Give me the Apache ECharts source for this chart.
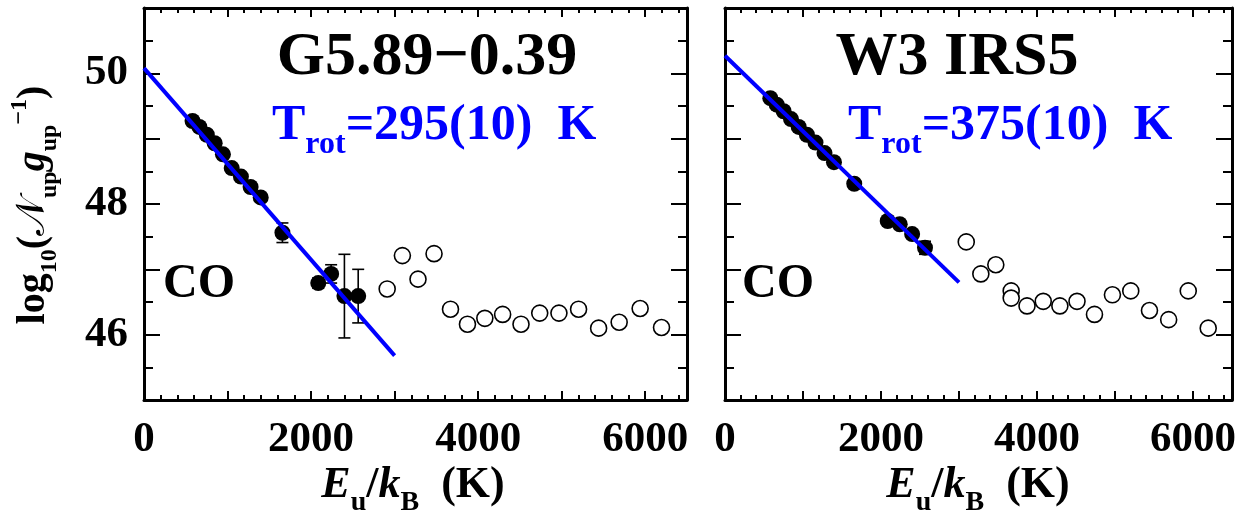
<!DOCTYPE html>
<html><head><meta charset="utf-8">
<script src="https://cdn.jsdelivr.net/npm/echarts@6/dist/echarts.min.js"></script>
<style>html,body{margin:0;padding:0;background:#fff}#c{width:1247px;height:511px}</style>
</head><body><div id="c"></div>
<script>
// ---------- DATA ----------
const xTickLabels = ['0', '2000', '4000', '6000'];
const yTickLabels = ['46', '48', '50'];

// Left panel: G5.89-0.39
const leftTitle = 'G5.89\u22120.39';
const leftTrot = '=295(10)  K';
const leftFitE = [0, 3000];
const leftFitLogN = [50.08, 45.68];
const leftFilledE = [581, 663, 752, 846, 945, 1050, 1160, 1276, 1397, 1657, 2086, 2240, 2399, 2564];
const leftFilledLogN = [49.27, 49.18, 49.06, 48.93, 48.76, 48.55, 48.42, 48.26, 48.10, 47.56, 46.79, 46.93, 46.59, 46.59];
const leftFilledErr = [0, 0, 0, 0, 0, 0, 0, 0, 0, 0.15, 0.08, 0.14, 0.64, 0.41];
const leftOpenE = [2911, 3093, 3280, 3472, 3669, 3872, 4080, 4293, 4513, 4737, 4967, 5202, 5442, 5688, 5939, 6195];
const leftOpenLogN = [46.70, 47.21, 46.85, 47.24, 46.39, 46.16, 46.25, 46.31, 46.16, 46.33, 46.33, 46.39, 46.10, 46.19, 46.40, 46.11];

// Right panel: W3 IRS5
const rightTitle = 'W3 IRS5';
const rightTrot = '=375(10)  K';
const rightFitE = [0, 3000];
const rightFitLogN = [50.27, 46.80];
const rightFilledE = [581, 663, 752, 846, 945, 1050, 1160, 1276, 1397, 1657, 2086, 2240, 2399, 2564];
const rightFilledLogN = [49.62, 49.52, 49.42, 49.30, 49.18, 49.06, 48.94, 48.78, 48.64, 48.31, 47.74, 47.69, 47.54, 47.33];
const rightFilledErr = [0, 0, 0, 0, 0, 0, 0, 0, 0, 0.03, 0.04, 0.05, 0.06, 0.10];
const rightOpenE = [3093, 3280, 3472, 3669, 3669, 3872, 4080, 4293, 4513, 4737, 4967, 5202, 5442, 5688, 5939, 6195];
const rightOpenLogN = [47.42, 46.93, 47.07, 46.67, 46.56, 46.44, 46.51, 46.44, 46.51, 46.31, 46.61, 46.67, 46.37, 46.23, 46.67, 46.10];

// ---------- CHART ----------
const FF = "'Liberation Serif', 'Times New Roman', serif";
const BLUE = '#0000ff';
const chart = echarts.init(document.getElementById('c'), null, {renderer: 'canvas'});

const zip = (a, b) => a.map((v, i) => [v, b[i]]);

function xAxes(g) {
  const base = {gridIndex: g, type: 'value', min: 0, max: 6500, splitLine: {show: false}};
  const line = {show: true, onZero: false, lineStyle: {color: '#000', width: 3}};
  const noLine = {show: false, onZero: false};
  const tick = (len) => ({show: true, inside: true, length: len, lineStyle: {color: '#000', width: 2}});
  return [
    Object.assign({}, base, {position: 'bottom', interval: 1000, axisLine: line, axisTick: tick(9),
      axisLabel: {show: true, margin: 18, color: '#000', fontFamily: FF, fontWeight: 'bold', fontSize: 43,
        formatter: v => xTickLabels.includes(String(v)) ? String(v) : ''}}),
    Object.assign({}, base, {position: 'bottom', interval: 200, axisLine: noLine, axisTick: tick(5), axisLabel: {show: false}}),
    Object.assign({}, base, {position: 'top', interval: 1000, axisLine: line, axisTick: tick(9), axisLabel: {show: false}}),
    Object.assign({}, base, {position: 'top', interval: 200, axisLine: noLine, axisTick: tick(5), axisLabel: {show: false}})
  ];
}
function yAxes(g, showLabels) {
  const base = {gridIndex: g, type: 'value', min: 45, max: 51, interval: 1, splitLine: {show: false},
    axisLine: {show: true, onZero: false, lineStyle: {color: '#000', width: 3}},
    axisTick: {show: true, inside: true, length: 16, lineStyle: {color: '#000', width: 2}},
    minorTick: {show: true, splitNumber: 2, length: 9, lineStyle: {color: '#000', width: 2}},
    minorSplitLine: {show: false}};
  return [
    Object.assign({}, base, {position: 'left', axisLabel: {show: showLabels, margin: 16, color: '#000', fontFamily: FF,
      fontWeight: 'bold', fontSize: 43, formatter: v => yTickLabels.includes(String(v)) ? String(v) : ''}}),
    Object.assign({}, base, {position: 'right', axisLabel: {show: false}})
  ];
}

function errSeries(xi, yi, E, V, Err) {
  const data = [];
  E.forEach((e, i) => { if (Err[i] > 0) data.push([e, V[i] - Err[i], V[i] + Err[i]]); });
  return {
    type: 'custom', xAxisIndex: xi, yAxisIndex: yi, silent: true, z: 3, data: data,
    encode: {x: 0, y: [1, 2]},
    renderItem: function (params, api) {
      const lo = api.coord([api.value(0), api.value(1)]);
      const hi = api.coord([api.value(0), api.value(2)]);
      const w = 6;
      const st = {stroke: '#000', lineWidth: 1.6};
      return {type: 'group', children: [
        {type: 'line', shape: {x1: lo[0], y1: lo[1], x2: hi[0], y2: hi[1]}, style: st},
        {type: 'line', shape: {x1: lo[0] - w, y1: lo[1], x2: lo[0] + w, y2: lo[1]}, style: st},
        {type: 'line', shape: {x1: hi[0] - w, y1: hi[1], x2: hi[0] + w, y2: hi[1]}, style: st}
      ]};
    }
  };
}
function panelSeries(xi, yi, fitE, fitV, fE, fV, fErr, oE, oV) {
  return [
    errSeries(xi, yi, fE, fV, fErr),
    {type: 'scatter', xAxisIndex: xi, yAxisIndex: yi, data: zip(oE, oV), symbol: 'circle', symbolSize: 16,
      itemStyle: {color: '#fff', borderColor: '#000', borderWidth: 1.6, opacity: 1}, z: 4, silent: true},
    {type: 'scatter', xAxisIndex: xi, yAxisIndex: yi, data: zip(fE, fV), symbol: 'circle', symbolSize: 16,
      itemStyle: {color: '#000', opacity: 1}, z: 5, silent: true},
    {type: 'line', xAxisIndex: xi, yAxisIndex: yi, data: zip(fitE, fitV), symbol: 'none', silent: true,
      lineStyle: {color: BLUE, width: 4}, z: 6, animation: false}
  ];
}

const bigRich = (fs, subFs, L, color, weight) => ({
  m: {fontFamily: FF, fontWeight: weight || 'bold', fontSize: fs, lineHeight: L, fill: color},
  i: {fontFamily: FF, fontWeight: weight || 'bold', fontStyle: 'italic', fontSize: fs, lineHeight: L, fill: color},
  s: {fontFamily: FF, fontWeight: weight || 'bold', fontSize: subFs, lineHeight: subFs, verticalAlign: 'bottom', fill: color},
  p: {fontFamily: FF, fontWeight: weight || 'bold', fontSize: subFs, lineHeight: subFs, verticalAlign: 'top', padding: [2, 0, 0, 0], fill: color},
  n: {fontFamily: "'DejaVu Serif', 'Noto Sans', serif", fontSize: fs, lineHeight: L, fill: color}
});

function txt(x, y, text, font, color, align) {
  return {type: 'text', x: x, y: y, silent: true, z: 10,
    style: {text: text, font: font, fill: color, align: align || 'center', verticalAlign: 'middle'}};
}
function richTxt(x, y, text, rich, align, rotation) {
  return {type: 'text', x: x, y: y, silent: true, z: 10, rotation: rotation || 0,
    style: {text: text, rich: rich, align: align || 'center', verticalAlign: 'middle'}};
}

const option = {
  animation: false,
  backgroundColor: '#fff',
  grid: [
    {left: 144, top: 8, width: 543, height: 392, containLabel: false, outerBoundsMode: 'none'},
    {left: 725, top: 8, width: 507, height: 392, containLabel: false, outerBoundsMode: 'none'}
  ],
  xAxis: xAxes(0).concat(xAxes(1)),
  yAxis: yAxes(0, true).concat(yAxes(1, false)),
  series: panelSeries(0, 0, leftFitE, leftFitLogN, leftFilledE, leftFilledLogN, leftFilledErr, leftOpenE, leftOpenLogN)
    .concat(panelSeries(4, 2, rightFitE, rightFitLogN, rightFilledE, rightFilledLogN, rightFilledErr, rightOpenE, rightOpenLogN)),
  graphic: [
    txt(427, 58, leftTitle, "bold 62px " + FF, '#000'),
    txt(957, 58, rightTitle, "bold 62px " + FF, '#000'),
    richTxt(272, 126, '{m|T}{s|rot}{m|' + leftTrot + '}', bigRich(50, 32, 70, BLUE, 'bold'), 'left'),
    richTxt(848, 126, '{m|T}{s|rot}{m|' + rightTrot + '}', bigRich(50, 32, 70, BLUE, 'bold'), 'left'),
    txt(163, 285, 'CO', "bold 48px " + FF, '#000', 'left'),
    txt(742, 285, 'CO', "bold 48px " + FF, '#000', 'left'),
    richTxt(413, 486, '{i|E}{s|u}{m|/}{i|k}{s|B}{m|  (K)}', bigRich(44, 28, 62, '#000')),
    richTxt(978, 486, '{i|E}{s|u}{m|/}{i|k}{s|B}{m|  (K)}', bigRich(44, 28, 62, '#000')),
    richTxt(34, 205, '{m|log}{s|10}{m|(}{n|\uD835\uDCA9}{s|up}{i|g}{s|up}{p|\u22121}{m|)}', bigRich(40, 24, 56, '#000'), 'center', Math.PI / 2)
  ]
};
chart.setOption(option);
</script></body></html>
